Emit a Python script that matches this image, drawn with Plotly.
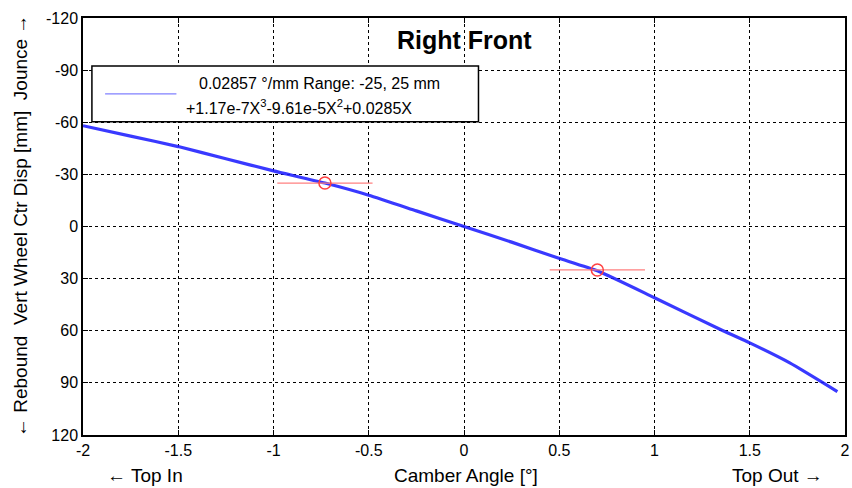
import plotly.graph_objects as go

# Curve data (camber angle [deg] vs vertical wheel centre displacement [mm])
camber = [-2.0, -1.75, -1.5, -1.25, -1.0, -0.73, -0.5, -0.25, 0.0, 0.25, 0.49, 0.7, 1.0, 1.36, 1.5, 1.71, 1.96]
disp = [-58, -52, -46, -39, -32, -25, -18, -9, 0, 9, 18, 25.5, 41, 60, 67, 78.5, 95]

# Range markers
mark_x = [-0.73, 0.70]
mark_y = [-25, 25]
mark_xerr = [0.25, 0.25]

x_ticks = [-2, -1.5, -1, -0.5, 0, 0.5, 1, 1.5, 2]
y_ticks = [-120, -90, -60, -30, 0, 30, 60, 90, 120]

FONT = "Liberation Sans, Arial, sans-serif"

fig = go.Figure()
fig.add_trace(go.Scatter(x=camber, y=disp, mode="lines",
                         line=dict(color="rgba(30,30,255,0.88)", width=3.2, shape="spline", smoothing=0.5),
                         showlegend=False))
fig.add_trace(go.Scatter(x=mark_x, y=mark_y, mode="markers",
                         marker=dict(symbol="circle-open", size=12, color="#ff4040", line=dict(width=1.5)),
                         error_x=dict(type="data", array=mark_xerr, color="#ff8080", thickness=1.2, width=0),
                         showlegend=False))

axis_common = dict(showline=True, linecolor="black", linewidth=1.5, mirror="ticks",
                   ticks="inside", ticklen=5, tickcolor="black",
                   showgrid=True, gridcolor="black", griddash="dot", gridwidth=1,
                   zeroline=False, ticklabeloverflow="allow",
                   tickfont=dict(family=FONT, size=16, color="black"))

fig.update_xaxes(range=[-2, 2], tickvals=x_ticks, ticktext=[f"{v:g}" for v in x_ticks], **axis_common)
fig.update_yaxes(range=[120, -120], tickvals=y_ticks, ticktext=[f"{v:g}" for v in y_ticks], **axis_common)

nb = "\u00a0"
fig.update_layout(
    width=852, height=488,
    margin=dict(l=83, r=2, t=18, b=53),
    paper_bgcolor="white", plot_bgcolor="white",
    font=dict(family=FONT, size=16, color="black"),
    shapes=[
        dict(type="rect", xref="paper", yref="paper", x0=0.0117, x1=0.519, y0=0.751, y1=0.885,
             line=dict(color="black", width=1.5), fillcolor="white", layer="above"),
        dict(type="line", xref="paper", yref="paper", x0=0.029, x1=0.1226, y0=0.818, y1=0.818,
             line=dict(color="#8080ff", width=1.2), layer="above"),
    ],
    annotations=[
        dict(text="<b>Right Front</b>", xref="paper", yref="paper", x=0.5, y=0.947,
             xanchor="center", yanchor="middle",
             showarrow=False, font=dict(family=FONT, size=25, color="black")),
        dict(text="0.02857 °/mm Range: -25, 25 mm", xref="paper", yref="paper",
             x=0.310, y=0.842, xanchor="center", yanchor="middle",
             showarrow=False, font=dict(family=FONT, size=16)),
        dict(text="+1.17e-7X<sup>3</sup>-9.61e-5X<sup>2</sup>+0.0285X", xref="paper", yref="paper",
             x=0.283, y=0.787, xanchor="center", yanchor="middle",
             showarrow=False, font=dict(family=FONT, size=16)),
        dict(text="Camber Angle [°]", xref="paper", yref="paper", x=0.502, y=-0.096,
             xanchor="center", yanchor="middle", showarrow=False, font=dict(family=FONT, size=19)),
        dict(text="← Top In", xref="paper", yref="paper", x=0.082, y=-0.096,
             xanchor="center", yanchor="middle", showarrow=False, font=dict(family=FONT, size=19)),
        dict(text="Top Out →", xref="paper", yref="paper", x=0.911, y=-0.096,
             xanchor="center", yanchor="middle", showarrow=False, font=dict(family=FONT, size=19)),
        dict(text=f"← Rebound{nb*2}Vert Wheel Ctr Disp [mm]{nb*2}Jounce →", xref="paper", yref="paper",
             x=-0.082, y=0.5, xanchor="center", yanchor="middle", textangle=-90,
             showarrow=False, font=dict(family=FONT, size=19)),
    ],
)

fig.write_html("out.html")
